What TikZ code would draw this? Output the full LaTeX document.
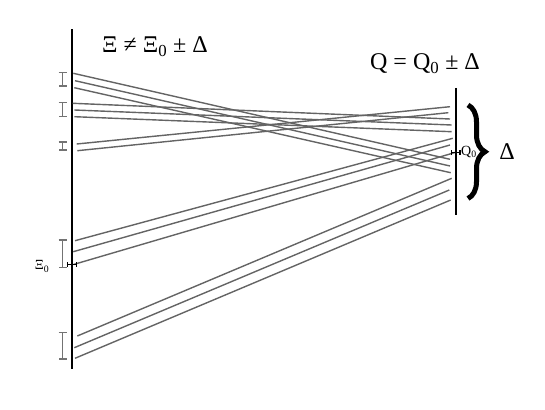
\documentclass[tikz,border=0pt]{standalone}
\usepackage{fontspec}
\setmainfont{Liberation Serif}
\usetikzlibrary{arrows.meta,decorations.pathreplacing}
\definecolor{linegray}{RGB}{100,100,100}
\definecolor{bargray}{RGB}{115,115,115}
\tikzset{
  ray/.style={draw=linegray,line width=1.4pt},
  axisline/.style={draw=black,line width=2.8pt},
  errbar/.style={draw=bargray,line width=1.7pt,{Bar[width=8pt]}-{Bar[width=8pt]}},
  marker/.style={draw=black,line width=1.1pt,{Bar[width=5pt]}-{Bar[width=5pt]}},
  title/.style={font=\fontsize{24}{28}\selectfont,inner sep=0pt},
  small/.style={font=\fontsize{14}{16}\selectfont,inner sep=0pt}
}
\begin{document}
\begin{tikzpicture}[x=1pt,y=-1pt]
\useasboundingbox (0,0) rectangle (545,409);
% axes
\coordinate (lt) at (72,29.5);
\coordinate (lb) at (72,368.5);
\coordinate (rt) at (455.5,88);
\coordinate (rb) at (455.5,215);
\draw[axisline] (lt) -- (lb);
\draw[axisline,line width=2pt] (rt) -- (rb);
% ray endpoints
\foreach \n/\xa/\ya/\xb/\yb in {
  A/73.3/73.3/450/159.3,
  B/75/80.7/450/166,
  C/74.3/87.7/450.7/172.7,
  D/72.7/103.3/450/119,
  E/74.3/110/451.7/125,
  F/74.3/116.7/451.7/131.7,
  G/76.7/144/450/106.7,
  H/77.3/150.7/448.3/112.7,
  I/75/240.7/452.7/138.3,
  J/73.3/251.7/450/145,
  K/73.5/264.5/455/152.5,
  L/77.3/336/451.7/178.3,
  M/74.3/347.7/449.3/190,
  N/75/358.3/450.7/200}{
  \coordinate (l\n) at (\xa,\ya);
  \coordinate (r\n) at (\xb,\yb);
}
\foreach \n in {A,B,C,D,E,F,G,H,I,J,K,L,M,N}{
  \draw[ray] (l\n) -- (r\n);
}
% error bars
\foreach \i/\ya/\yb in {1/71.7/86.7, 2/101.5/117.2, 3/141.3/150.7, 4/239.3/268.3, 5/331.7/360}{
  \coordinate (eb\i t) at (62.5,\ya);
  \coordinate (eb\i b) at (62.5,\yb);
  \draw[errbar] (eb\i t) -- (eb\i b);
}
% markers at true values
\coordinate (xm1) at (67,264.5);
\coordinate (xm2) at (77,264.5);
\draw[marker] (xm1) -- (xm2);
\coordinate (qm1) at (450.5,152.5);
\coordinate (qm2) at (460.5,152.5);
\draw[marker] (qm1) -- (qm2);
% labels
\node[title] (t1) at (155,47) {Ξ ≠ Ξ\textsubscript{0} ± Δ};
\node[title] (t2) at (425,64) {Q = Q\textsubscript{0} ± Δ};
\node[small,anchor=west] (q0) at (461,151.5) {Q\textsubscript{0}};
\node[small,anchor=east] (x0) at (49.5,266.5) {Ξ\textsubscript{0}};
% brace
\coordinate (bt) at (468,105);
\coordinate (bb) at (468,198.5);
\draw[line width=5pt,decorate,decoration={brace,amplitude=17pt,aspect=0.5}] (bt) -- (bb);
\node[title] (delta) at (507,152) {Δ};
\end{tikzpicture}
\end{document}
